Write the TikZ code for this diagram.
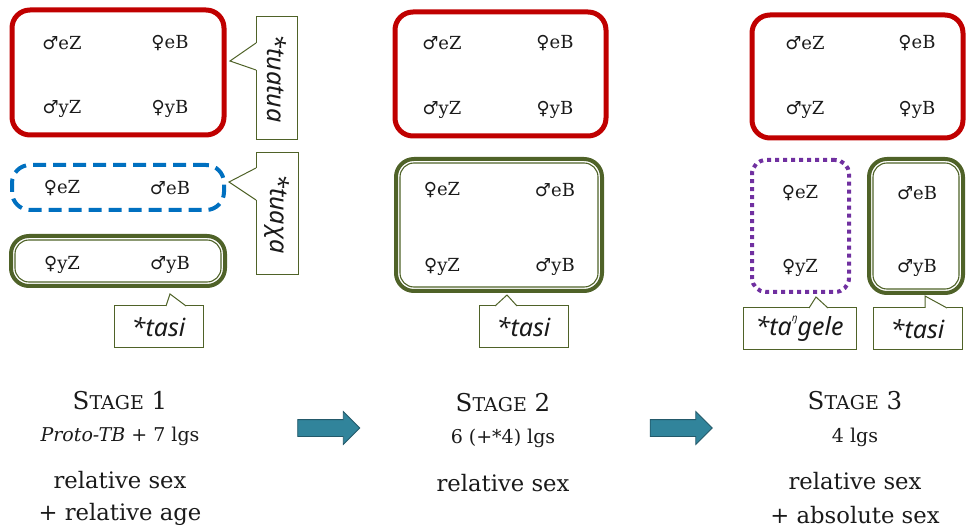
\documentclass[tikz,border=0pt]{standalone}
\usepackage{fontspec}
\setmainfont{DejaVu Serif}
\newfontfamily\gsymfont{DejaVu Sans}
\newfontfamily\calloutfont{Noto Sans}
\usetikzlibrary{shapes.arrows,fit}
\definecolor{cred}{HTML}{C00000}
\definecolor{cblue}{HTML}{0070C0}
\definecolor{colive}{HTML}{4F6228}
\definecolor{cpurple}{HTML}{7030A0}
\definecolor{cteal}{HTML}{31849B}
\definecolor{ctealdark}{HTML}{23596A}
\definecolor{ctext}{HTML}{1A1A1A}
\newcommand\symM{{\gsymfont ♂}}
\newcommand\symF{{\gsymfont ♀}}
\newcommand\stagehead[1]{\fontsize{24.5}{24.5}\selectfont S\fontsize{19}{19}\selectfont TAGE\fontsize{24.5}{24.5}\selectfont{} #1}
\tikzset{
  every node/.style={inner sep=0pt, outer sep=0pt, text=ctext},
  redbox/.style={draw=cred, line width=5pt, rounded corners=18pt, inner sep=0pt},
  bluebox/.style={draw=cblue, line width=4pt, rounded corners=18pt, dash pattern=on 13pt off 7pt, inner sep=0pt},
  purplebox/.style={draw=cpurple, line width=4pt, rounded corners=14pt, dash pattern=on 4pt off 4pt, inner sep=0pt},
  greenbox/.style={draw=colive, line width=4pt, rounded corners=18pt, inner sep=0pt},
  greeninner/.style={draw=colive, line width=1.1pt, rounded corners=14pt},
  kin/.style={font=\fontsize{18}{18}\selectfont},
  callbox/.style={draw=colive, line width=1pt, fill=white},
  callline/.style={draw=colive, line width=1pt},
  callerase/.style={draw=white, line width=2pt},
  calltext/.style={font=\calloutfont\itshape\fontsize{25}{25}\selectfont},
  subtext/.style={font=\fontsize{19}{19}\selectfont},
  bigtext/.style={font=\fontsize{22.7}{22.7}\selectfont},
  blockarrow/.style={single arrow, fill=cteal, draw=ctealdark, line width=0.8pt,
     inner xsep=0pt, inner ysep=8pt,
     minimum height=62pt, single arrow head extend=8pt, single arrow head indent=0pt},
}
\begin{document}
\begin{tikzpicture}[x=1pt, y=-1pt]
\useasboundingbox (0,0) rectangle (967,529);

% ---------------- Stage 1 ----------------
\node[redbox, fit={(12,10) (224,135)}] (r1) {};
\node[kin] (r1a) at (62,43) {\symM eZ};
\node[kin] (r1b) at (170,43) {\symF eB};
\node[kin] (r1c) at (62,109) {\symM yZ};
\node[kin] (r1d) at (170,109) {\symF yB};

\node[bluebox, fit={(12,165) (224,210)}] (b1) {};
\node[kin] (b1a) at (62,188) {\symF eZ};
\node[kin] (b1b) at (170,188) {\symM eB};

\node[greenbox, fit={(11,236) (225,286)}] (g1) {};
\draw[greeninner] ([shift={(4,4)}]g1.north west) rectangle ([shift={(-4,-4)}]g1.south east);
\node[kin] (g1a) at (62,265) {\symF yZ};
\node[kin] (g1b) at (170,265) {\symM yB};

% callout *tuatua
\node[callbox, fit={(256,17) (297,140)}] (c1) {};
\node[calltext, rotate=-90] (c1t) at (c1.center) {*tuatua};
\coordinate (c1tip) at (230,61);
\draw[callerase] ([shift={(0,26)}]c1.north west) -- ([shift={(0,53)}]c1.north west);
\draw[callline] ([shift={(0,26)}]c1.north west) -- (c1tip) -- ([shift={(0,53)}]c1.north west);

% callout *tuaxa
\node[callbox, fit={(256,153) (298,275)}] (c2) {};
\node[calltext, rotate=-90] (c2t) at (c2.center) {*tuaχa};
\coordinate (c2tip) at (229,182);
\draw[callerase] ([shift={(0,15)}]c2.north west) -- ([shift={(0,47)}]c2.north west);
\draw[callline] ([shift={(0,15)}]c2.north west) -- (c2tip) -- ([shift={(0,47)}]c2.north west);

% callout *tasi (1)
\node[callbox, fit={(114,306) (203,348)}] (c3) {};
\node[calltext] (c3t) at (c3.center) {*tasi};
\coordinate (c3tip) at (170,294);
\draw[callerase] ([shift={(52,0)}]c3.north west) -- ([shift={(72,0)}]c3.north west);
\draw[callline] ([shift={(52,0)}]c3.north west) -- (c3tip) -- ([shift={(72,0)}]c3.north west);

% ---------------- Stage 2 ----------------
\node[redbox, fit={(395,12) (606,136)}] (r2) {};
\node[kin] (r2a) at (442,43) {\symM eZ};
\node[kin] (r2b) at (555,43) {\symF eB};
\node[kin] (r2c) at (442,110) {\symM yZ};
\node[kin] (r2d) at (555,110) {\symF yB};

\node[greenbox, fit={(396,159) (602,291)}] (g2) {};
\draw[greeninner] ([shift={(4,4)}]g2.north west) rectangle ([shift={(-4,-4)}]g2.south east);
\node[kin] (g2a) at (442,190) {\symF eZ};
\node[kin] (g2b) at (555,190) {\symM eB};
\node[kin] (g2c) at (442,267) {\symF yZ};
\node[kin] (g2d) at (555,267) {\symM yB};

\node[callbox, fit={(479,306) (568,348)}] (c4) {};
\node[calltext] (c4t) at (c4.center) {*tasi};
\coordinate (c4tip) at (507,295);
\draw[callerase] ([shift={(16,0)}]c4.north west) -- ([shift={(38,0)}]c4.north west);
\draw[callline] ([shift={(16,0)}]c4.north west) -- (c4tip) -- ([shift={(38,0)}]c4.north west);

% ---------------- Stage 3 ----------------
\node[redbox, fit={(752,15) (963,138)}] (r3) {};
\node[kin] (r3a) at (805,43) {\symM eZ};
\node[kin] (r3b) at (917,43) {\symF eB};
\node[kin] (r3c) at (805,110) {\symM yZ};
\node[kin] (r3d) at (917,110) {\symF yB};

\node[purplebox, fit={(752,160) (849,292)}] (p3) {};
\node[kin] (p3a) at (800,193) {\symF eZ};
\node[kin] (p3b) at (800,268) {\symF yZ};

\node[greenbox, fit={(869,159) (963,293)}] (g3) {};
\draw[greeninner] ([shift={(4,4)}]g3.north west) rectangle ([shift={(-4,-4)}]g3.south east);
\node[kin] (g3a) at (917,193) {\symM eB};
\node[kin] (g3b) at (917,268) {\symM yB};

\node[callbox, fit={(743,308) (856,350)}] (c5) {};
\node[calltext] (c5t) at (c5.center) {*ta\raisebox{0.55em}{\fontsize{10}{10}\selectfont ŋ}gele};
\coordinate (c5tip) at (816,297);
\draw[callerase] ([shift={(66,0)}]c5.north west) -- ([shift={(85,0)}]c5.north west);
\draw[callline] ([shift={(66,0)}]c5.north west) -- (c5tip) -- ([shift={(85,0)}]c5.north west);

\node[callbox, fit={(873,308) (962,350)}] (c6) {};
\node[calltext] (c6t) at (c6.center) {*tasi};
\coordinate (c6tip) at (925,296);
\draw[callerase] ([shift={(52,0)}]c6.north west) -- ([shift={(74,0)}]c6.north west);
\draw[callline] ([shift={(52,0)}]c6.north west) -- (c6tip) -- ([shift={(74,0)}]c6.north west);

% ---------------- captions ----------------
\node (s1) at (120,401) {\stagehead{1}};
\node[subtext] (s1b) at (120,436) {\textit{Proto-TB} + 7 lgs};
\node[bigtext] (s1c) at (120,480) {relative sex};
\node[bigtext] (s1d) at (120,514) {+ relative age};

\node (s2) at (503,403) {\stagehead{2}};
\node[subtext] (s2b) at (503,438) {6 (+*4) lgs};
\node[bigtext] (s2c) at (503,483) {relative sex};

\node (s3) at (855,401) {\stagehead{3}};
\node[subtext] (s3b) at (855,437) {4 lgs};
\node[bigtext] (s3c) at (855,481) {relative sex};
\node[bigtext] (s3d) at (855,515) {+ absolute sex};

\node[blockarrow] (a1) at (324.5,428) {};
\node[blockarrow] (a2) at (677,428) {};
\end{tikzpicture}
\end{document}
